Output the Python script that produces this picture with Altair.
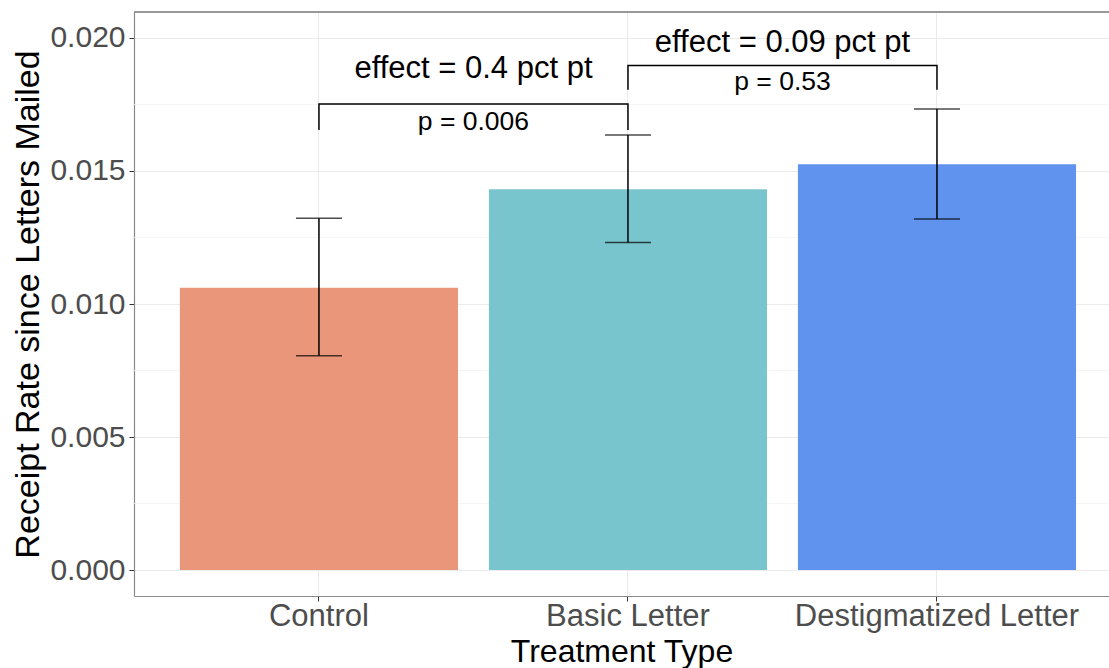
import altair as alt
import pandas as pd

categories = ["Control", "Basic Letter", "Destigmatized Letter"]
rates = [0.01061, 0.01431, 0.01525]
ci_low = [0.00805, 0.01231, 0.01320]
ci_high = [0.01322, 0.01635, 0.01733]
bar_colors = ["#E9967A", "#78C5CE", "#6093EE"]

y_major = [0.000, 0.005, 0.010, 0.015, 0.020]
y_minor = [0.0025, 0.0075, 0.0125, 0.0175]

bracket_left = ["Control", "Basic Letter"]
bracket_right = ["Basic Letter", "Destigmatized Letter"]
bracket_top = [0.01752, 0.01897]
bracket_leg_end = [0.01654, 0.01805]
effect_labels = ["effect = 0.4 pct pt", "effect = 0.09 pct pt"]
effect_y = [0.01850, 0.01949]
p_labels = ["p = 0.006", "p = 0.53"]
p_y = [0.01654, 0.01805]

W, H = 975, 584
FONT = "Liberation Sans"
pad_inner, pad_outer, align = 0.1, 0.1276, 0.582
step = W / (len(categories) - pad_inner + 2 * pad_outer)

bars = pd.DataFrame({"cat": categories, "rate": rates, "lo": ci_low, "hi": ci_high})

rows = []
for i in range(len(bracket_left)):
    pts = [(bracket_left[i], bracket_leg_end[i]), (bracket_left[i], bracket_top[i]),
           (bracket_right[i], bracket_top[i]), (bracket_right[i], bracket_leg_end[i])]
    for j, (c, v) in enumerate(pts):
        rows.append({"bracket": i, "order": j, "cat": c, "y": v})
brackets = pd.DataFrame(rows)

texts = pd.DataFrame({"cat": bracket_right, "effect": effect_labels, "ey": effect_y,
                      "p": p_labels, "py": p_y})
minor = pd.DataFrame({"y": y_minor})

yscale = alt.Scale(domain=[-0.000977, 0.020977], nice=False, zero=False)
xscale = alt.Scale(domain=categories, paddingInner=pad_inner, paddingOuter=pad_outer, align=align)

x_enc = alt.X("cat:N", scale=xscale, sort=categories,
              axis=alt.Axis(title="Treatment Type", labelAngle=0, bandPosition=0.5,
                            grid=True, gridColor="#EBEBEB", gridWidth=1, labelLimit=0,
                            labelFontSize=31, labelColor="#4D4D4D", labelFont=FONT,
                            titleFontSize=32, titleFont=FONT, titleColor="black",
                            titleFontWeight="normal", titlePadding=5, labelPadding=0,
                            tickSize=5, tickColor="#333333", domainColor="#8A8A8A",
                            domainWidth=1.2))
y_axis = alt.Axis(title="Receipt Rate since Letters Mailed", values=y_major, format=".3f",
                  grid=True, gridColor="#EBEBEB", gridWidth=1,
                  labelFontSize=30, labelColor="#4D4D4D", labelFont=FONT,
                  titleFontSize=34, titleFont=FONT, titleColor="black",
                  titleFontWeight="normal", titlePadding=4, labelPadding=4,
                  tickSize=5, tickColor="#333333", domainColor="#8A8A8A", domainWidth=1.2)

minor_layer = alt.Chart(minor).mark_rule(color="#F0F0F0", strokeWidth=0.7).encode(
    y=alt.Y("y:Q", scale=yscale, axis=y_axis))

bar_layer = alt.Chart(bars).mark_bar(opacity=1).encode(
    x=x_enc,
    y=alt.Y("rate:Q", scale=yscale, axis=y_axis),
    color=alt.Color("cat:N", scale=alt.Scale(domain=categories, range=bar_colors), legend=None))

err_layer = alt.Chart(bars).mark_rule(color="black", strokeWidth=1.5).encode(
    x=alt.X("cat:N", scale=xscale, sort=categories), y=alt.Y("lo:Q", scale=yscale), y2="hi:Q")
cap_lo = alt.Chart(bars).mark_tick(color="black", size=46, thickness=1.5).encode(
    x=alt.X("cat:N", scale=xscale, sort=categories), y=alt.Y("lo:Q", scale=yscale))
cap_hi = alt.Chart(bars).mark_tick(color="black", size=46, thickness=1.5).encode(
    x=alt.X("cat:N", scale=xscale, sort=categories), y=alt.Y("hi:Q", scale=yscale))

bracket_layer = alt.Chart(brackets).mark_line(color="black", strokeWidth=1.5).encode(
    x=alt.X("cat:N", scale=xscale, sort=categories), y=alt.Y("y:Q", scale=yscale),
    detail="bracket:N", order="order:Q")

effect_layer = alt.Chart(texts).mark_text(fontSize=31, font=FONT, color="black",
                                          baseline="alphabetic", align="center",
                                          dx=-step / 2).encode(
    x=alt.X("cat:N", scale=xscale, sort=categories), y=alt.Y("ey:Q", scale=yscale), text="effect:N")
p_layer = alt.Chart(texts).mark_text(fontSize=26.5, font=FONT, color="black",
                                     baseline="alphabetic", align="center",
                                     dx=-step / 2).encode(
    x=alt.X("cat:N", scale=xscale, sort=categories), y=alt.Y("py:Q", scale=yscale), text="p:N")

top_border = alt.Chart(bars).mark_rule(color="#8A8A8A", strokeWidth=1.2).encode(
    x=alt.value(0), x2=alt.value(W), y=alt.value(0))

chart = alt.layer(minor_layer, bar_layer, err_layer, cap_lo, cap_hi, bracket_layer,
                  effect_layer, p_layer, top_border).properties(
    width=W, height=H,
    autosize=alt.AutoSizeParams(type="none"),
    padding={"left": 134, "top": 12, "right": 0, "bottom": 72},
    background="white",
).configure_view(stroke=None)

chart.save("out.html", embed_options={"renderer": "svg", "actions": False})
